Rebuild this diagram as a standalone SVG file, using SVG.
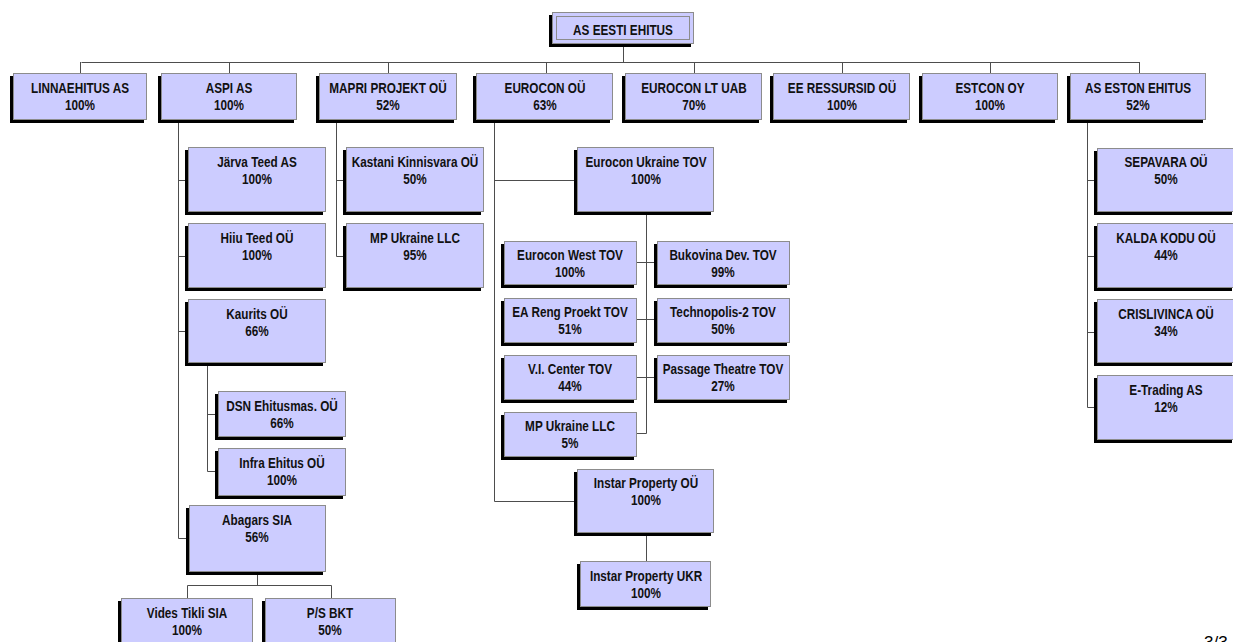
<svg xmlns="http://www.w3.org/2000/svg" width="1233" height="642" viewBox="0 0 1233 642">
<style>
.bg{fill:#ffffff}
.sh{fill:#000000}
.bx{fill:#ccccff;stroke:#8c8c8c;stroke-width:1}
.t{font-family:"Liberation Sans",Arial,sans-serif;font-weight:bold;font-size:14px;text-anchor:middle;fill:#111111}
.c{fill:none;stroke:#4d4d4d;stroke-width:1}
.pg{font-family:"Liberation Sans",Arial,sans-serif;font-size:17px;fill:#000000}
</style>
<rect class="bg" x="0" y="0" width="1233" height="642"/>
<g id="connectors">
<path class="c" d="M623.5 44V62.5M81.5 62.5H1139.5M80.5 62V73M229.5 62V73M388.5 62V73M546.5 62V73M694.5 62V73M842.5 62V73M990.5 62V73M1139.5 62V73"/>
<path class="c" d="M178.5 120V538.5M178.5 180.5H188M178.5 256.5H188M178.5 331.5H188M178.5 538.5H189"/>
<path class="c" d="M207.5 363V471.5M207.5 414.5H218M207.5 471.5H218"/>
<path class="c" d="M257.5 572V585.5M187.5 585.5H331.5M187.5 585.5V598M331.5 585.5V598"/>
<path class="c" d="M336.5 120V256.5M336.5 180.5H346M336.5 256.5H346"/>
<path class="c" d="M494.5 120V501.5M494.5 180.5H577M494.5 501.5H577"/>
<path class="c" d="M646.5 212V433.5M637 262.5H657M637 319.5H657M637 377.5H657M637 433.5H646.5"/>
<path class="c" d="M646.5 533V561"/>
<path class="c" d="M1087.5 120V407.5M1087.5 180.5H1097M1087.5 256.5H1097M1087.5 332.5H1097M1087.5 407.5H1097"/>
</g>
<g id="n_top">
<rect class="sh" x="549" y="15" width="142" height="32"/>
<rect class="bx" x="552.5" y="12.5" width="141" height="31" stroke-width="1.5"/>
<rect x="556.5" y="16.5" width="133" height="23" fill="none" stroke="#8c8c8c" stroke-width="1"/>
<text class="t" transform="translate(623 35) scale(0.84 1)">AS EESTI EHITUS</text>
</g>
<g id="n_linna">
<rect class="sh" x="10" y="76" width="134" height="47"/>
<rect class="bx" x="13.5" y="73.5" width="133" height="46"/>
<text class="t" transform="translate(80 93) scale(0.84 1)">LINNAEHITUS AS</text>
<text class="t" transform="translate(80 110) scale(0.84 1)">100%</text>
</g>
<g id="n_aspi">
<rect class="sh" x="158" y="76" width="136" height="47"/>
<rect class="bx" x="161.5" y="73.5" width="135" height="46"/>
<text class="t" transform="translate(229 93) scale(0.84 1)">ASPI AS</text>
<text class="t" transform="translate(229 110) scale(0.84 1)">100%</text>
</g>
<g id="n_mapri">
<rect class="sh" x="316" y="76" width="138" height="47"/>
<rect class="bx" x="319.5" y="73.5" width="137" height="46"/>
<text class="t" transform="translate(388 93) scale(0.84 1)">MAPRI PROJEKT OÜ</text>
<text class="t" transform="translate(388 110) scale(0.84 1)">52%</text>
</g>
<g id="n_eurocon">
<rect class="sh" x="473" y="76" width="137" height="47"/>
<rect class="bx" x="476.5" y="73.5" width="136" height="46"/>
<text class="t" transform="translate(545 93) scale(0.84 1)">EUROCON OÜ</text>
<text class="t" transform="translate(545 110) scale(0.84 1)">63%</text>
</g>
<g id="n_eurolt">
<rect class="sh" x="622" y="76" width="137" height="47"/>
<rect class="bx" x="625.5" y="73.5" width="136" height="46"/>
<text class="t" transform="translate(694 93) scale(0.84 1)">EUROCON LT UAB</text>
<text class="t" transform="translate(694 110) scale(0.84 1)">70%</text>
</g>
<g id="n_eeres">
<rect class="sh" x="770" y="76" width="137" height="47"/>
<rect class="bx" x="773.5" y="73.5" width="136" height="46"/>
<text class="t" transform="translate(842 93) scale(0.84 1)">EE RESSURSID OÜ</text>
<text class="t" transform="translate(842 110) scale(0.84 1)">100%</text>
</g>
<g id="n_estcon">
<rect class="sh" x="919" y="76" width="136" height="47"/>
<rect class="bx" x="922.5" y="73.5" width="135" height="46"/>
<text class="t" transform="translate(990 93) scale(0.84 1)">ESTCON OY</text>
<text class="t" transform="translate(990 110) scale(0.84 1)">100%</text>
</g>
<g id="n_eston">
<rect class="sh" x="1067" y="76" width="136" height="47"/>
<rect class="bx" x="1070.5" y="73.5" width="135" height="46"/>
<text class="t" transform="translate(1138 93) scale(0.84 1)">AS ESTON EHITUS</text>
<text class="t" transform="translate(1138 110) scale(0.84 1)">52%</text>
</g>
<g id="n_jarva">
<rect class="sh" x="185" y="150" width="138" height="65"/>
<rect class="bx" x="188.5" y="147.5" width="137" height="64"/>
<text class="t" transform="translate(257 167) scale(0.84 1)">Järva Teed AS</text>
<text class="t" transform="translate(257 184) scale(0.84 1)">100%</text>
</g>
<g id="n_hiiu">
<rect class="sh" x="185" y="226" width="138" height="65"/>
<rect class="bx" x="188.5" y="223.5" width="137" height="64"/>
<text class="t" transform="translate(257 243) scale(0.84 1)">Hiiu Teed OÜ</text>
<text class="t" transform="translate(257 260) scale(0.84 1)">100%</text>
</g>
<g id="n_kaurits">
<rect class="sh" x="185" y="302" width="138" height="64"/>
<rect class="bx" x="188.5" y="299.5" width="137" height="63"/>
<text class="t" transform="translate(257 319) scale(0.84 1)">Kaurits OÜ</text>
<text class="t" transform="translate(257 336) scale(0.84 1)">66%</text>
</g>
<g id="n_dsn">
<rect class="sh" x="215" y="394" width="128" height="46"/>
<rect class="bx" x="218.5" y="391.5" width="127" height="45"/>
<text class="t" transform="translate(282 411) scale(0.84 1)">DSN Ehitusmas. OÜ</text>
<text class="t" transform="translate(282 428) scale(0.84 1)">66%</text>
</g>
<g id="n_infra">
<rect class="sh" x="215" y="451" width="128" height="48"/>
<rect class="bx" x="218.5" y="448.5" width="127" height="47"/>
<text class="t" transform="translate(282 468) scale(0.84 1)">Infra Ehitus OÜ</text>
<text class="t" transform="translate(282 485) scale(0.84 1)">100%</text>
</g>
<g id="n_abagars">
<rect class="sh" x="186" y="508" width="137" height="67"/>
<rect class="bx" x="189.5" y="505.5" width="136" height="66"/>
<text class="t" transform="translate(257 525) scale(0.84 1)">Abagars SIA</text>
<text class="t" transform="translate(257 542) scale(0.84 1)">56%</text>
</g>
<g id="n_vides">
<rect class="sh" x="118" y="601" width="132" height="60"/>
<rect class="bx" x="121.5" y="598.5" width="131" height="59"/>
<text class="t" transform="translate(187 618) scale(0.84 1)">Vides Tikli SIA</text>
<text class="t" transform="translate(187 635) scale(0.84 1)">100%</text>
</g>
<g id="n_ps">
<rect class="sh" x="262" y="601" width="131" height="60"/>
<rect class="bx" x="265.5" y="598.5" width="130" height="59"/>
<text class="t" transform="translate(330 618) scale(0.84 1)">P/S BKT</text>
<text class="t" transform="translate(330 635) scale(0.84 1)">50%</text>
</g>
<g id="n_kastani">
<rect class="sh" x="343" y="150" width="138" height="65"/>
<rect class="bx" x="346.5" y="147.5" width="137" height="64"/>
<text class="t" transform="translate(415 167) scale(0.84 1)">Kastani Kinnisvara OÜ</text>
<text class="t" transform="translate(415 184) scale(0.84 1)">50%</text>
</g>
<g id="n_mpuk95">
<rect class="sh" x="343" y="226" width="138" height="65"/>
<rect class="bx" x="346.5" y="223.5" width="137" height="64"/>
<text class="t" transform="translate(415 243) scale(0.84 1)">MP Ukraine LLC</text>
<text class="t" transform="translate(415 260) scale(0.84 1)">95%</text>
</g>
<g id="n_eukr">
<rect class="sh" x="574" y="150" width="137" height="65"/>
<rect class="bx" x="577.5" y="147.5" width="136" height="64"/>
<text class="t" transform="translate(646 167) scale(0.84 1)">Eurocon Ukraine TOV</text>
<text class="t" transform="translate(646 184) scale(0.84 1)">100%</text>
</g>
<g id="n_euwest">
<rect class="sh" x="501" y="244" width="133" height="44"/>
<rect class="bx" x="504.5" y="241.5" width="132" height="43"/>
<text class="t" transform="translate(570 260) scale(0.84 1)">Eurocon West TOV</text>
<text class="t" transform="translate(570 277) scale(0.84 1)">100%</text>
</g>
<g id="n_bukovina">
<rect class="sh" x="654" y="244" width="133" height="44"/>
<rect class="bx" x="657.5" y="241.5" width="132" height="43"/>
<text class="t" transform="translate(723 260) scale(0.84 1)">Bukovina Dev. TOV</text>
<text class="t" transform="translate(723 277) scale(0.84 1)">99%</text>
</g>
<g id="n_eareng">
<rect class="sh" x="501" y="301" width="133" height="45"/>
<rect class="bx" x="504.5" y="298.5" width="132" height="44"/>
<text class="t" transform="translate(570 317) scale(0.84 1)">EA Reng Proekt TOV</text>
<text class="t" transform="translate(570 334) scale(0.84 1)">51%</text>
</g>
<g id="n_techno">
<rect class="sh" x="654" y="301" width="133" height="45"/>
<rect class="bx" x="657.5" y="298.5" width="132" height="44"/>
<text class="t" transform="translate(723 317) scale(0.84 1)">Technopolis-2 TOV</text>
<text class="t" transform="translate(723 334) scale(0.84 1)">50%</text>
</g>
<g id="n_vic">
<rect class="sh" x="501" y="358" width="133" height="45"/>
<rect class="bx" x="504.5" y="355.5" width="132" height="44"/>
<text class="t" transform="translate(570 374) scale(0.84 1)">V.I. Center TOV</text>
<text class="t" transform="translate(570 391) scale(0.84 1)">44%</text>
</g>
<g id="n_passage">
<rect class="sh" x="654" y="358" width="133" height="45"/>
<rect class="bx" x="657.5" y="355.5" width="132" height="44"/>
<text class="t" transform="translate(723 374) scale(0.84 1)">Passage Theatre TOV</text>
<text class="t" transform="translate(723 391) scale(0.84 1)">27%</text>
</g>
<g id="n_mpuk5">
<rect class="sh" x="501" y="415" width="133" height="45"/>
<rect class="bx" x="504.5" y="412.5" width="132" height="44"/>
<text class="t" transform="translate(570 431) scale(0.84 1)">MP Ukraine LLC</text>
<text class="t" transform="translate(570 448) scale(0.84 1)">5%</text>
</g>
<g id="n_instar">
<rect class="sh" x="574" y="472" width="137" height="64"/>
<rect class="bx" x="577.5" y="469.5" width="136" height="63"/>
<text class="t" transform="translate(646 488) scale(0.84 1)">Instar Property OÜ</text>
<text class="t" transform="translate(646 505) scale(0.84 1)">100%</text>
</g>
<g id="n_instarukr">
<rect class="sh" x="577" y="564" width="131" height="46"/>
<rect class="bx" x="580.5" y="561.5" width="130" height="45"/>
<text class="t" transform="translate(646 581) scale(0.84 1)">Instar Property UKR</text>
<text class="t" transform="translate(646 598) scale(0.84 1)">100%</text>
</g>
<g id="n_sepavara">
<rect class="sh" x="1094" y="151" width="138" height="64"/>
<rect class="bx" x="1097.5" y="148.5" width="137" height="63"/>
<text class="t" transform="translate(1166 167) scale(0.84 1)">SEPAVARA OÜ</text>
<text class="t" transform="translate(1166 184) scale(0.84 1)">50%</text>
</g>
<g id="n_kalda">
<rect class="sh" x="1094" y="226" width="138" height="65"/>
<rect class="bx" x="1097.5" y="223.5" width="137" height="64"/>
<text class="t" transform="translate(1166 243) scale(0.84 1)">KALDA KODU OÜ</text>
<text class="t" transform="translate(1166 260) scale(0.84 1)">44%</text>
</g>
<g id="n_cris">
<rect class="sh" x="1094" y="302" width="138" height="64"/>
<rect class="bx" x="1097.5" y="299.5" width="137" height="63"/>
<text class="t" transform="translate(1166 319) scale(0.84 1)">CRISLIVINCA OÜ</text>
<text class="t" transform="translate(1166 336) scale(0.84 1)">34%</text>
</g>
<g id="n_etrading">
<rect class="sh" x="1094" y="378" width="138" height="65"/>
<rect class="bx" x="1097.5" y="375.5" width="137" height="64"/>
<text class="t" transform="translate(1166 395) scale(0.84 1)">E-Trading AS</text>
<text class="t" transform="translate(1166 412) scale(0.84 1)">12%</text>
</g>
<text class="pg" x="1204" y="648">3/3</text>
</svg>
